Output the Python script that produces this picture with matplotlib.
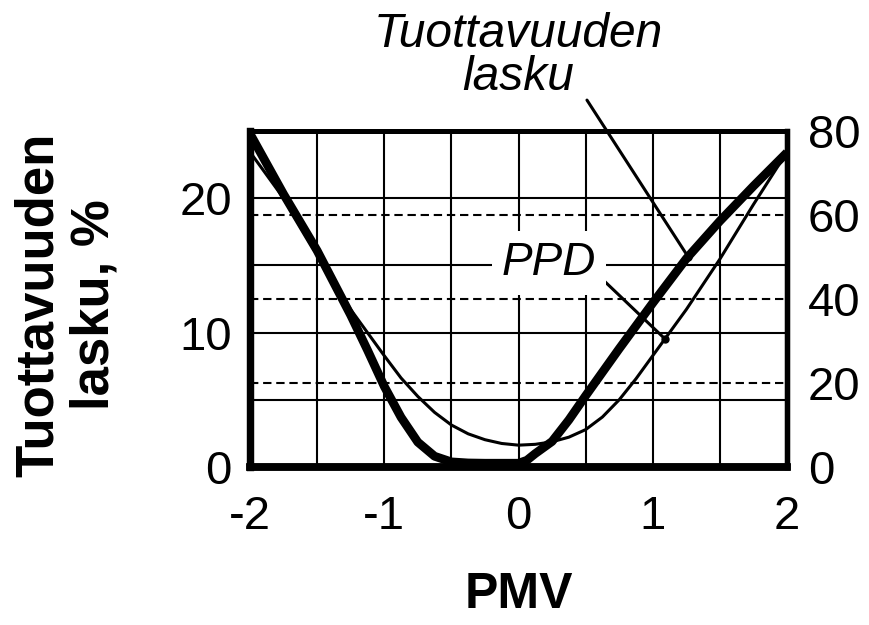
import numpy as np
import matplotlib
matplotlib.use("Agg")
import matplotlib.pyplot as plt

plt.rcParams['font.family'] = ['Liberation Sans', 'DejaVu Sans']
plt.rcParams['axes.unicode_minus'] = False

# PPD (%), right axis
pmv = [-2, -1.75, -1.5, -1.25, -1, -0.875, -0.75, -0.625, -0.5, -0.375, -0.25, -0.125,
       0, 0.125, 0.25, 0.375, 0.5, 0.625, 0.75, 0.875, 1, 1.25, 1.5, 1.75, 2]
ppd = [75, 64, 50.5, 37.5, 26.5, 21.2, 16.8, 13.0, 10.0, 7.9, 6.5, 5.6,
       5.2, 5.4, 6.0, 7.1, 8.9, 11.9, 16.0, 21.0, 26.5, 37.5, 49.5, 62.5, 75]

# productivity loss (%), left axis
pmv_loss = [-2, -1.75, -1.5, -1.25, -1.125, -1, -0.875, -0.75, -0.625, -0.5, -0.375, -0.25, 0,
            0.0625, 0.125, 0.25, 0.375, 0.5, 0.75, 1, 1.25, 1.5, 1.75, 2]
loss = [24.8, 20.3, 16.1, 11.3, 8.7, 6.0, 3.7, 1.85, 0.8, 0.38, 0.3, 0.28, 0.28,
        0.5, 1.0, 1.9, 3.5, 5.3, 8.8, 12.2, 15.5, 18.3, 20.9, 23.4]

xticks = [-2, -1, 0, 1, 2]
left_ticks = [0, 10, 20]
right_ticks = [0, 20, 40, 60, 80]

fig = plt.figure(figsize=(8.69, 6.25), dpi=100)
ax = fig.add_axes([250/869, 1-467/625, (787-250)/869, (467-131)/625])
ax.set_xlim(-2, 2)
ax.set_ylim(0, 25)
ax2 = ax.twinx()
ax2.set_ylim(0, 80)

# grid
for gx in [-1.5, -1, -0.5, 0, 0.5, 1, 1.5]:
    ax.axvline(gx, color='black', lw=1.5, zorder=1)
for gy in [5, 10, 15, 20]:
    ax.axhline(gy, color='black', lw=1.5, zorder=1)
for gy in [20, 40, 60]:
    ax2.axhline(gy, color='black', lw=1.5, ls=(0, (4, 2.3)), zorder=1)

ax.plot(pmv_loss, loss, color='black', lw=6.3, solid_capstyle='butt',
        solid_joinstyle='round', zorder=3)
ax2.plot(pmv, ppd, color='black', lw=2.2, solid_joinstyle='round', zorder=3)

ax.set_xticks(xticks)
ax.set_xticklabels([str(v) for v in xticks])
ax.set_yticks(left_ticks)
ax2.set_yticks(right_ticks)
ax.tick_params(axis='x', length=0, pad=20, labelsize=34)
ax.tick_params(axis='y', length=0, pad=13, labelsize=34)
ax2.tick_params(axis='y', length=0, pad=15, labelsize=34)

for a in (ax, ax2):
    a.spines['left'].set_linewidth(5.2)
    a.spines['bottom'].set_linewidth(5.4)
    a.spines['top'].set_linewidth(3.6)
    a.spines['right'].set_linewidth(3.8)

ax.set_xlabel('PMV', fontsize=36, fontweight='bold', labelpad=24)
fig.text(67/869, 1-305/625, 'Tuottavuuden\nlasku, %', rotation=90, ha='center', va='center',
         fontsize=38, fontweight='bold', multialignment='center', linespacing=1.15)

# annotations
to_ax = ax.transData
ax2.text(0.0, 28.05, 'Tuottavuuden\nlasku', transform=to_ax, ha='center', va='baseline',
         fontsize=34.5, fontstyle='italic', linespacing=0.95, clip_on=False)
x_dot1 = 1.263
y_dot1 = float(np.interp(x_dot1, pmv_loss, loss))
ax2.annotate('', xy=(x_dot1, y_dot1), xycoords=to_ax, xytext=(0.51, 27.3), textcoords=to_ax,
             arrowprops=dict(arrowstyle='-', lw=2.2, shrinkA=0, shrinkB=0, color='black'),
             annotation_clip=False)
ax2.plot([x_dot1], [y_dot1], 'o', color='black', ms=5, transform=to_ax, zorder=5)

ax2.text(0.227, 45.7, 'PPD', ha='center', va='baseline', fontsize=33, fontstyle='italic',
         bbox=dict(boxstyle='square,pad=0.22', fc='white', ec='none'), zorder=4)
x_dot2 = 1.091
y_dot2 = float(np.interp(x_dot2, pmv, ppd))
ax2.annotate('', xy=(x_dot2, y_dot2), xytext=(0.607, 14.14*3.2),
             arrowprops=dict(arrowstyle='-', lw=2.2, shrinkA=0, shrinkB=0, color='black'),
             annotation_clip=False)
ax2.plot([x_dot2], [y_dot2], 'o', color='black', ms=5, zorder=5)

fig.savefig('out.png', dpi=100)
